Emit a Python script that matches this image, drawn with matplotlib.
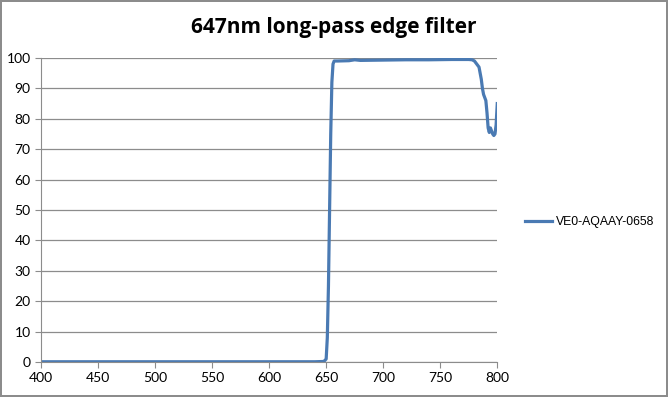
import matplotlib
matplotlib.use("Agg")
import matplotlib.pyplot as plt
from matplotlib import font_manager

# transmission readings (%)
wavelength = [400, 450, 500, 550, 600, 640, 648, 650, 651, 652, 653, 654, 655, 656, 657,
              660, 670, 675, 680, 700, 720, 740, 760, 775, 778, 780, 782, 784, 786, 787,
              788, 789, 790, 791, 792, 793, 794, 795, 796, 797, 798, 799, 800]
transmission = [0.1, 0.1, 0.1, 0.1, 0.1, 0.1, 0.2, 1.0, 8.0, 25.0, 50.0, 75.0, 92.0, 98.0, 99.0,
                99.0, 99.1, 99.4, 99.2, 99.3, 99.4, 99.4, 99.5, 99.5, 99.4, 99.0, 98.0, 97.0, 93.0, 90.0,
                88.0, 87.0, 86.0, 82.0, 77.0, 75.5, 77.0, 76.0, 75.0, 74.5, 75.0, 78.0, 85.0]
series_name = "VE0-AQAAY-0658"
chart_title = "647nm long-pass edge filter"

plt.rcParams['font.family'] = ['Lato', 'DejaVu Sans']

# narrow font for the legend if available
names = set(f.name for f in font_manager.fontManager.ttflist)
if 'Liberation Sans Narrow' in names:
    legend_font = {'family': 'Liberation Sans Narrow', 'size': 10.5}
else:
    legend_font = {'family': 'Liberation Sans', 'size': 8.8}

fig = plt.figure(figsize=(6.68, 3.97), dpi=100)
fig.patch.set_edgecolor("#8c8c8c")
fig.patch.set_linewidth(1.5)

ax = fig.add_axes([0.0614, 0.088, 0.683, 0.766])
line, = ax.plot(wavelength, transmission, color="#4a7ab3", linewidth=2.3, label=series_name)

ax.set_xlim(400, 800)
ax.set_ylim(0, 100)
ax.set_xticks(range(400, 801, 50))
ax.set_yticks(range(0, 101, 10))
ax.yaxis.grid(True, color="#8c8c8c", linewidth=0.9)
ax.set_axisbelow(True)

for side in ["top", "right"]:
    ax.spines[side].set_visible(False)
for side in ["left", "bottom"]:
    ax.spines[side].set_color("#8c8c8c")
ax.tick_params(axis="both", direction="out", length=4, color="#8c8c8c",
               labelsize=10, labelcolor="black")

fig.text(0.5, 0.93, chart_title, ha="center", va="center",
         fontsize=15, fontweight="bold", family="Open Sans")

fig.legend(handles=[line], loc="center left", bbox_to_anchor=(0.77, 0.44),
           frameon=False, prop=legend_font, handlelength=2.2, handletextpad=0.3)

fig.savefig("out.png", dpi=100)
